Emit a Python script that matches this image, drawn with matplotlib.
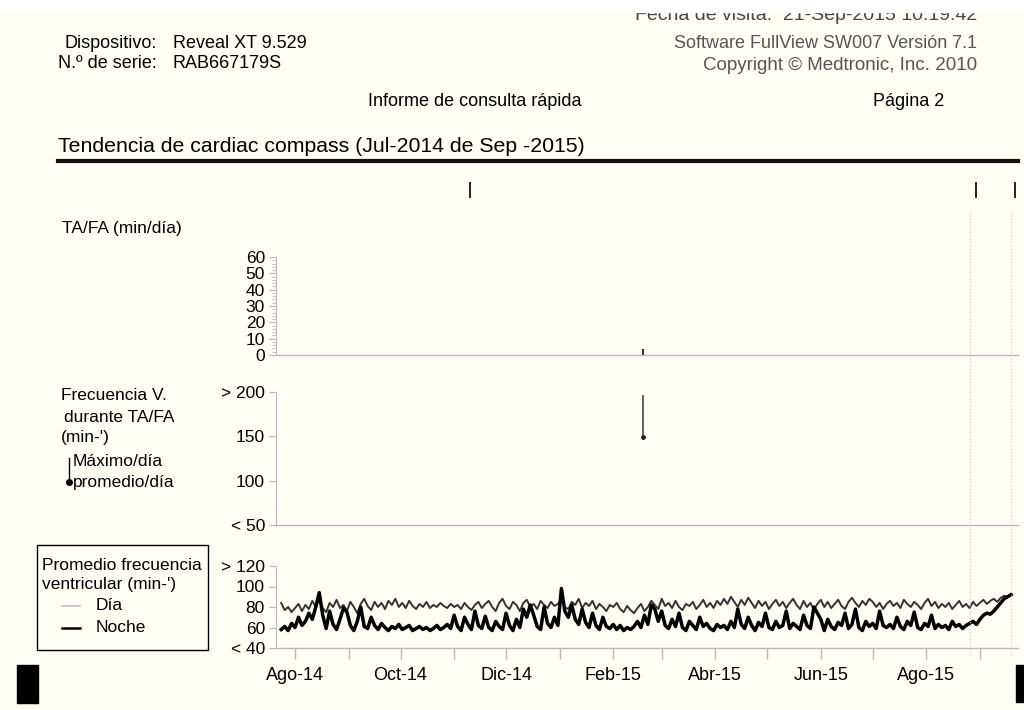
import numpy as np
import matplotlib
matplotlib.use("Agg")
import matplotlib.pyplot as plt
import matplotlib.dates as mdates
from matplotlib.patches import Rectangle
import datetime as dt

plt.rcParams['font.family'] = ['Liberation Sans', 'DejaVu Sans']

inicio = dt.date(2014, 7, 24)   # primer dia con datos
paso = 2                        # dias entre lecturas

dia = [84, 77, 80, 75, 79, 83, 76, 82, 78, 86, 80, 88, 79, 75, 84, 80,
       87, 79, 82, 76, 85, 80, 74, 83, 88, 81, 77, 85, 80, 84, 78, 86,
       82, 88, 80, 84, 79, 86, 81, 78, 83, 80, 85, 79, 82, 80, 84, 81,
       79, 83, 80, 82, 78, 84, 80, 77, 82, 85, 79, 83, 86, 80, 76, 84,
       88, 81, 78, 85, 82, 76, 84, 87, 80, 83, 78, 86, 82, 79, 85, 81,
       83, 87, 80, 78, 85, 82, 88, 79, 84, 81, 86, 78, 83, 80, 76, 82,
       80, 84, 78, 75, 81, 77, 74, 79, 83, 76, 80, 86, 82, 78, 88, 81,
       84, 79, 86, 80, 77, 83, 81, 85, 78, 82, 87, 80, 84, 79, 86, 82,
       88, 83, 90, 85, 80, 87, 82, 89, 84, 79, 86, 81, 85, 78, 83, 87,
       81, 85, 79, 84, 88, 82, 78, 86, 80, 84, 77, 83, 87, 80, 85, 79,
       83, 87, 81, 78, 85, 89, 84, 80, 86, 82, 88, 85, 80, 84, 78, 83,
       86, 81, 84, 79, 87, 83, 80, 85, 82, 78, 84, 88, 81, 85, 79, 83,
       80, 84, 78, 82, 86, 80, 83, 79, 85, 81, 84, 87, 83, 86, 88, 85,
       89, 91, 90, 93]

noche = [58, 61, 57, 64, 60, 70, 62, 66, 74, 68, 80, 94, 72, 59, 76, 63,
         58, 68, 79, 75, 62, 57, 66, 80, 61, 59, 70, 62, 58, 64, 60, 57,
         61, 59, 63, 58, 60, 62, 57, 59, 61, 58, 60, 57, 59, 62, 58, 60,
         63, 59, 72, 61, 57, 70, 63, 58, 76, 62, 59, 71, 60, 57, 66, 61,
         58, 74, 62, 57, 68, 60, 78, 70, 82, 72, 61, 58, 80, 64, 60, 70,
         62, 98, 76, 70, 82, 68, 63, 78, 65, 60, 74, 62, 58, 70, 61, 59,
         63, 58, 62, 57, 60, 58, 61, 66, 60, 72, 63, 82, 78, 66, 76, 62,
         59, 68, 61, 74, 60, 57, 66, 62, 58, 70, 61, 64, 59, 57, 63, 60,
         62, 58, 66, 60, 78, 63, 59, 70, 62, 57, 65, 61, 74, 60, 58, 66,
         60, 62, 76, 59, 64, 61, 58, 72, 62, 59, 80, 74, 68, 57, 68, 61,
         58, 65, 62, 74, 59, 63, 78, 60, 57, 66, 61, 64, 59, 76, 62, 60,
         63, 59, 70, 61, 58, 66, 62, 75, 60, 58, 64, 61, 72, 59, 63, 60,
         62, 58, 66, 61, 63, 59, 62, 64, 66, 63, 68, 72, 74, 73, 76, 80,
         84, 88, 90, 92]

# episodio TA/FA
fecha_ev = dt.date(2015, 2, 18)
tafa_min = 3
fv_max = 195
fv_prom = 149

# marcas superiores y lineas punteadas
marcas = [dt.date(2014, 11, 10), dt.date(2015, 8, 30), dt.date(2015, 9, 21)]
lineas = [dt.date(2015, 8, 26), dt.date(2015, 9, 19)]

meses = ['Ene', 'Feb', 'Mar', 'Abr', 'May', 'Jun', 'Jul', 'Ago', 'Sep', 'Oct', 'Nov', 'Dic']
xlim = (dt.date(2014, 7, 21), dt.date(2015, 9, 23))

# -------------------------------- #

fondo = '#fffef4'
gris = '#b8b8c4'
W, H = 1024, 710
fs = 12.5  # tamano de letra de etiquetas

def caja(x0, y0, x1, y1):
    # pixeles (origen arriba) -> fraccion de figura
    return [x0 / W, 1 - y1 / H, (x1 - x0) / W, (y1 - y0) / H]

fig = plt.figure(figsize=(10.24, 7.1), dpi=100, facecolor=fondo)

def fechas(serie):
    return [inicio + dt.timedelta(days=paso * i) for i in range(len(serie))]

def estilo(ax, ymin, ymax):
    ax.set_facecolor('none')
    ax.set_xlim(xlim)
    ax.set_ylim(ymin, ymax)
    for s in ['top', 'right']:
        ax.spines[s].set_visible(False)
    ax.spines['left'].set_color(gris)
    ax.spines['left'].set_linewidth(0.8)
    ax.spines['left'].set_linestyle((0, (1, 1)))
    ax.spines['bottom'].set_color(gris)
    ax.spines['bottom'].set_linewidth(1.0)
    ax.tick_params(axis='y', colors=gris, labelcolor='black', labelsize=fs, length=5, width=0.8, pad=3)
    ax.tick_params(axis='y', which='minor', colors=gris, length=3, width=0.6)

# panel 1: TA/FA
ax1 = fig.add_axes(caja(276, 257, 1018, 355))
estilo(ax1, 0, 60)
ax1.set_yticks([0, 10, 20, 30, 40, 50, 60])
ax1.set_yticks(np.arange(0, 61, 2), minor=True)
ax1.set_xticks([])
ax1.plot([fecha_ev, fecha_ev], [0, tafa_min], color='#333333', lw=1.5)

# panel 2: frecuencia V. durante TA/FA
ax2 = fig.add_axes(caja(276, 392, 1018, 525))
estilo(ax2, 50, 200)
ax2.set_yticks([50, 100, 150, 200])
ax2.set_yticklabels(['< 50', '100', '150', '> 200'])
ax2.set_xticks([])
ax2.plot([fecha_ev, fecha_ev], [fv_prom, fv_max], color='#555555', lw=1.3)
ax2.plot([fecha_ev], [fv_prom], 'o', color='#222222', ms=2.5)

# panel 3: promedio frecuencia ventricular
ax3 = fig.add_axes(caja(276, 566, 1018, 648))
estilo(ax3, 40, 120)
ax3.set_yticks([40, 60, 80, 100, 120])
ax3.set_yticklabels(['< 40', '60', '80', '100', '> 120'])
ax3.plot(fechas(dia), dia, color='#333333', lw=1.4)
ax3.plot(fechas(noche), noche, color='black', lw=2.5)
ax3.xaxis.set_major_locator(mdates.MonthLocator(bymonth=[2, 4, 6, 8, 10, 12]))
ax3.xaxis.set_minor_locator(mdates.MonthLocator())
ax3.xaxis.set_major_formatter(plt.FuncFormatter(
    lambda v, p: "%s-%s" % (meses[mdates.num2date(v).month - 1], mdates.num2date(v).strftime('%y'))))
ax3.tick_params(axis='x', which='both', colors=gris, labelcolor='black', labelsize=13, length=8, width=1.0, pad=6)

# lineas punteadas verticales
axl = fig.add_axes(caja(276, 210, 1018, 656))
axl.set_facecolor('none')
axl.set_xlim(xlim)
axl.axis('off')
for f in lineas:
    axl.axvline(f, color='#c8c8d0', lw=0.8, ls=(0, (1, 2)))

# marcas superiores
axm = fig.add_axes(caja(276, 180, 1018, 200))
axm.set_facecolor('none')
axm.set_xlim(xlim)
axm.set_ylim(0, 1)
axm.axis('off')
axm.plot(marcas, [0.5] * len(marcas), '|', color='#222222', ms=12, mew=1.4)

# --- textos del encabezado --- #
def txt(x, y, s, **kw):
    fig.text(x / W, 1 - y / H, s, va='center', **kw)

txt(157, 44, 'Dispositivo:', ha='right', fontsize=13)
txt(173, 44, 'Reveal XT 9.529', ha='left', fontsize=13)
txt(157, 64, 'N.º de serie:', ha='right', fontsize=13)
txt(173, 64, 'RAB667179S', ha='left', fontsize=13)
txt(977, 15, 'Fecha de visita:  21-Sep-2015 10:19:42', ha='right', fontsize=14, color='#444444')
txt(977, 43, 'Software FullView SW007 Versión 7.1', ha='right', fontsize=13, color='#555555')
txt(977, 66, 'Copyright © Medtronic, Inc. 2010', ha='right', fontsize=13.5, color='#555555')
txt(475, 101, 'Informe de consulta rápida', ha='center', fontsize=13)
txt(873, 101, 'Página 2', ha='left', fontsize=13)
txt(58, 146, 'Tendencia de cardiac compass (Jul-2014 de Sep -2015)', ha='left', fontsize=15.3)
fig.add_artist(plt.Line2D([58 / W, 1018 / W], [1 - 161 / H, 1 - 161 / H], color='#111111', lw=3))

# etiquetas de paneles
txt(62, 229, 'TA/FA (min/día)', ha='left', fontsize=fs)
txt(61, 396, 'Frecuencia V.', ha='left', fontsize=fs)
txt(64, 417, 'durante TA/FA', ha='left', fontsize=fs)
txt(61, 438, "(min-')", ha='left', fontsize=fs)
txt(73, 461, 'Máximo/día', ha='left', fontsize=fs)
txt(73, 482, 'promedio/día', ha='left', fontsize=fs)
fig.add_artist(plt.Line2D([69 / W, 69 / W], [1 - 458 / H, 1 - 481 / H], color='black', lw=1))
fig.add_artist(plt.Line2D([68.5 / W], [1 - 482 / H], marker='o', color='black', ms=4))

# leyenda del panel 3
fig.add_artist(Rectangle((37 / W, 1 - 650 / H), 171 / W, 105 / H, transform=fig.transFigure,
                         fill=False, edgecolor='black', lw=1))
txt(42, 566, 'Promedio frecuencia', ha='left', fontsize=fs)
txt(42, 584, "ventricular (min-')", ha='left', fontsize=fs)
fig.add_artist(plt.Line2D([62 / W, 80 / W], [1 - 606 / H, 1 - 606 / H], color='#c0c0c8', lw=1.2))
txt(96, 606, 'Día', ha='left', fontsize=fs)
fig.add_artist(plt.Line2D([62 / W, 80 / W], [1 - 628 / H, 1 - 628 / H], color='black', lw=1.8))
txt(96, 628, 'Noche', ha='left', fontsize=fs)

# bloques negros del escaneo y franja blanca superior
fig.add_artist(Rectangle((17 / W, 7 / H), 21 / W, 38 / H, transform=fig.transFigure, color='black', zorder=5))
fig.add_artist(Rectangle((1016 / W, 8 / H), 8 / W, 37 / H, transform=fig.transFigure, color='black', zorder=5))
fig.add_artist(Rectangle((0, 1 - 12 / H), 1, 12 / H, transform=fig.transFigure, color='white', zorder=10))

fig.savefig('out.png', dpi=100, facecolor=fondo)
